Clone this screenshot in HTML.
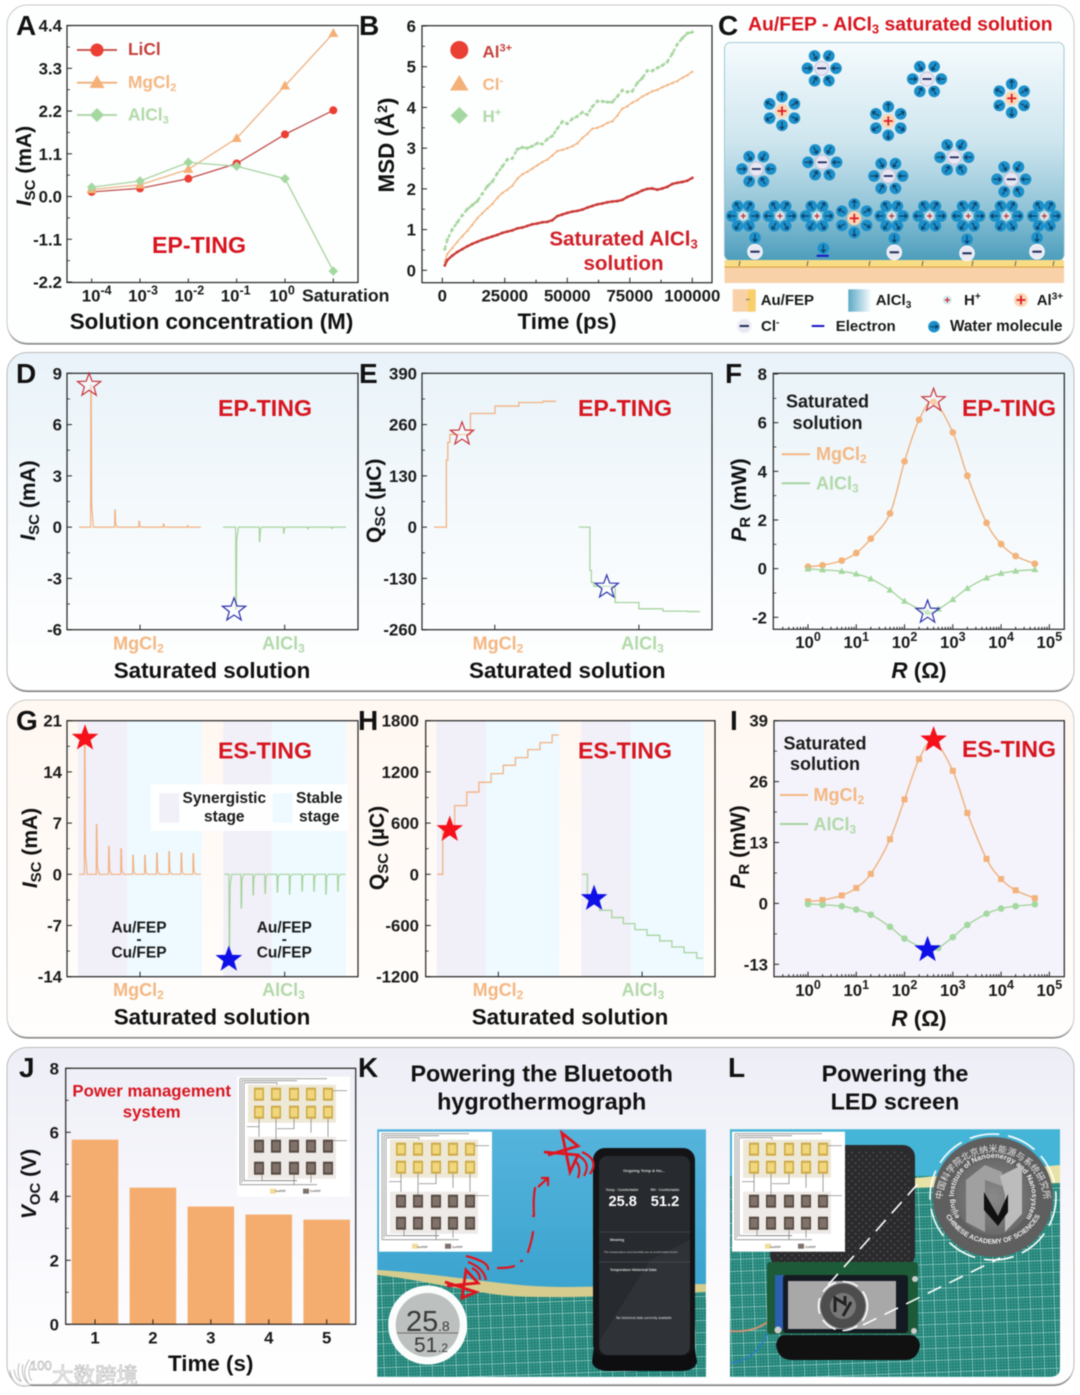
<!DOCTYPE html>
<html lang="en">
<head>
<meta charset="utf-8">
<title>TING multi-panel figure</title>
<style>
html,body{margin:0;padding:0;background:#fff;width:1080px;height:1395px;overflow:hidden}
#figure{display:block;filter:blur(.4px);font-family:"Liberation Sans","Noto Sans CJK SC",sans-serif;font-weight:bold}
.t{font-size:16.8px;fill:#1a1a1a}
.ax{font-size:22.4px;fill:#111}
.pl{font-size:28px;fill:#111}
.ting{font-size:23.2px;fill:#d8151f}
.mg{font-size:18px;fill:#f4b782}
.al{font-size:18px;fill:#b2d9aa}
.leg{font-size:15px;fill:#1a1a1a}
</style>
</head>
<body>
<svg id="figure" xmlns="http://www.w3.org/2000/svg" width="1080" height="1395" viewBox="0 0 1080 1395">
<defs>
<linearGradient id="row2" x1="0" y1="0" x2="0" y2="1"><stop offset="0" stop-color="#e9f3f9"/><stop offset=".75" stop-color="#fbfdfe"/><stop offset="1" stop-color="#fff"/></linearGradient>
<linearGradient id="row3" x1="0" y1="0" x2="0" y2="1"><stop offset="0" stop-color="#fff7f1"/><stop offset="1" stop-color="#fffefd"/></linearGradient>
<linearGradient id="row4" x1="0" y1="0" x2="0" y2="1"><stop offset="0" stop-color="#eeeef7"/><stop offset=".7" stop-color="#fbfbfe"/><stop offset="1" stop-color="#fff"/></linearGradient>
<linearGradient id="sol" x1="0" y1="0" x2="0" y2="1"><stop offset="0" stop-color="#f5fbfd"/><stop offset=".45" stop-color="#cfe6ef"/><stop offset=".75" stop-color="#93c5d8"/><stop offset="1" stop-color="#4b9dbc"/></linearGradient>
<linearGradient id="solLeg" x1="0" y1="0" x2="1" y2="0"><stop offset="0" stop-color="#5ba9c4"/><stop offset="1" stop-color="#f4fbfd"/></linearGradient>
<linearGradient id="wall" x1="0" y1="0" x2="0" y2="1"><stop offset="0" stop-color="#55b4dc"/><stop offset="1" stop-color="#2c9bc8"/></linearGradient>
<radialGradient id="logoFill"><stop offset="0" stop-color="#8a8a8a"/><stop offset="1" stop-color="#6a6a6a"/></radialGradient>
<pattern id="mat" width="12" height="12" patternUnits="userSpaceOnUse" patternTransform="rotate(-2)">
<rect width="12" height="12" fill="#1f8076"/>
<path d="M0 3H12M0 6H12M0 9H12M3 0V12M6 0V12M9 0V12" stroke="#55ad9f" stroke-width=".4"/>
<path d="M0 0H12M0 0V12" stroke="#c6efe5" stroke-width="1"/>
</pattern>
<pattern id="dimple" width="5" height="5" patternUnits="userSpaceOnUse" patternTransform="rotate(45)">
<rect width="5" height="5" fill="#2a2a2c"/><circle cx="2.500" cy="2.500" r="1.100" fill="#48484b"/>
</pattern>
<g id="wd"><circle r="5.8" fill="#1c90ca"/><path d="M-3.6 0H3.600M1.300-2.100 3.800 0 1.300 2.100" fill="none" stroke="#0f3558" stroke-width="1"/></g>
<g id="wOut"><use href="#wd" x="14.3"/></g>
<g id="wIn"><use href="#wd" transform="translate(14.3,0) rotate(180)"/></g>
<g id="anion">
<use href="#wIn"/><use href="#wIn" transform="rotate(60)"/><use href="#wIn" transform="rotate(120)"/><use href="#wIn" transform="rotate(180)"/><use href="#wIn" transform="rotate(240)"/><use href="#wIn" transform="rotate(300)"/>
<circle r="7" fill="#e8e7f3" stroke="#c3c1dc" stroke-width="1"/><path d="M-4.5 0H4.5" stroke="#1f2c5c" stroke-width="1.8"/>
</g>
<g id="cation">
<use href="#wOut" transform="rotate(30)"/><use href="#wOut" transform="rotate(90)"/><use href="#wOut" transform="rotate(150)"/><use href="#wOut" transform="rotate(210)"/><use href="#wOut" transform="rotate(270)"/><use href="#wOut" transform="rotate(330)"/>
<circle r="7" fill="#fad7b6"/><path d="M-4.5 0H4.5M0-4.5V4.5" stroke="#dd1f26" stroke-width="1.8"/>
</g>
<g id="wh"><use href="#wd" transform="translate(11.4,0)"/></g>
<g id="proton">
<use href="#wh"/><use href="#wh" transform="rotate(60)"/><use href="#wh" transform="rotate(120)"/><use href="#wh" transform="rotate(180)"/><use href="#wh" transform="rotate(240)"/><use href="#wh" transform="rotate(300)"/>
<circle r="4.6" fill="#cfeaf0"/><path d="M-2.6 0H2.6M0-2.6V2.6" stroke="#cf2a2e" stroke-width="1.2"/>
</g>
<g id="freeAnion"><circle r="7.2" fill="#e9e8f3" stroke="#f7f7fb" stroke-width="1.2"/><path d="M-4.6 0H4.6" stroke="#1f2c5c" stroke-width="2"/></g>
<g id="pad"><rect width="10" height="13" fill="#cda945"/><rect x="1.5" y="2" width="7" height="9" fill="#f0d77c"/></g>
<g id="padDark"><rect width="10" height="13" fill="#55493f"/><rect x="1.5" y="2" width="7" height="9" fill="#80726a"/></g>
<g id="circuit">
<rect width="113" height="120" fill="#fff"/>
<path d="M3 2H90M5 4H60M7 6H40V12M3 2V108M5 4V106M7 6V104H60M3 108H80" fill="none" stroke="#8f8f8f" stroke-width=".8"/>
<rect x="11" y="8" width="88" height="38" fill="#eee8d7"/>
<rect x="11" y="60" width="88" height="42" fill="#eeeae7"/>
<use href="#pad" x="17" y="11"/><use href="#pad" x="34" y="11"/><use href="#pad" x="52" y="11"/><use href="#pad" x="69" y="11"/><use href="#pad" x="86" y="11"/>
<use href="#pad" x="17" y="29"/><use href="#pad" x="34" y="29"/><use href="#pad" x="52" y="29"/><use href="#pad" x="69" y="29"/><use href="#pad" x="86" y="29"/>
<use href="#padDark" x="17" y="63"/><use href="#padDark" x="34" y="63"/><use href="#padDark" x="52" y="63"/><use href="#padDark" x="69" y="63"/><use href="#padDark" x="86" y="63"/>
<use href="#padDark" x="17" y="85"/><use href="#padDark" x="34" y="85"/><use href="#padDark" x="52" y="85"/><use href="#padDark" x="69" y="85"/><use href="#padDark" x="86" y="85"/>
<path d="M22 42V58M39 42V63M57 42V52H40M74 42V56M91 42V60M10 50H22V60M96 14H110M96 64H110M25 98V104H60M57 98V108M74 98V106" fill="none" stroke="#777" stroke-width=".7"/>
<rect x="33" y="112" width="6" height="5" fill="#f2dc9a"/><rect x="66" y="112" width="6" height="5" fill="#7d716b"/>
</g>
</defs>

<g id="panels">
<rect x="7" y="6.5" width="1067" height="338" rx="20" fill="#6e6e6e"/>
<rect x="7" y="5" width="1067" height="338" rx="20" fill="#fdfefe" stroke="#c9c9c9" stroke-width="1"/>
<rect x="7" y="354" width="1067" height="338" rx="20" fill="#6e6e6e"/>
<rect x="7" y="352.5" width="1067" height="338" rx="20" fill="url(#row2)" stroke="#bbb" stroke-width="1"/>
<rect x="7" y="701.5" width="1067" height="337" rx="20" fill="#6e6e6e"/>
<rect x="7" y="700" width="1067" height="337" rx="20" fill="url(#row3)" stroke="#ccc" stroke-width="1"/>
<rect x="7" y="1049" width="1067" height="337" rx="20" fill="#6e6e6e"/>
<rect x="7" y="1047.5" width="1067" height="337" rx="20" fill="url(#row4)" stroke="#bbb" stroke-width="1"/>
</g>

<g>
<text class="pl" x="16" y="35">A</text>
<text class="pl" x="359" y="35">B</text>
<text class="pl" x="718" y="35">C</text>
<text class="pl" x="16" y="383">D</text>
<text class="pl" x="359" y="383">E</text>
<text class="pl" x="725" y="383">F</text>
<text class="pl" x="16" y="730">G</text>
<text class="pl" x="358" y="730">H</text>
<text class="pl" x="730" y="730">I</text>
<text class="pl" x="19" y="1077">J</text>
<text class="pl" x="358" y="1077">K</text>
<text class="pl" x="728" y="1077">L</text>
</g>

<g id="plot-a"></g>
<g id="plot-b"></g>
<g id="plot-d"></g>
<g id="plot-e"></g>
<g id="plot-f"></g>
<g id="plot-g"></g>
<g id="plot-h"></g>
<g id="plot-i"></g>
<g id="plot-j"></g>

<!-- Panel A labels -->
<g>
<text class="ax" transform="translate(31,166) rotate(-90)" text-anchor="middle" style="font-size:21px"><tspan font-style="italic">I</tspan><tspan dy="4" font-size="15">SC</tspan><tspan dy="-4"> (mA)</tspan></text>
<text class="ax" x="211.5" y="329" text-anchor="middle">Solution concentration (M)</text>
<text class="ting" x="199" y="253" text-anchor="middle">EP-TING</text>
<g><path d="M77 50H117" stroke="#c0453f" stroke-width="1.8"/><circle cx="97" cy="50" r="6.5" fill="#ec3e32"/><text x="128" y="55" style="font-size:17.3px" fill="#c4423d">LiCl</text></g>
<g><path d="M77 82.7H117" stroke="#efb07c" stroke-width="1.8"/><polygon points="97,75 104.5,88 89.5,88" fill="#f5b077"/><text x="128" y="88" style="font-size:17.3px" fill="#f4b782">MgCl<tspan dy="3" font-size="11">2</tspan></text></g>
<g><path d="M77 115H117" stroke="#a8d4a0" stroke-width="1.8"/><polygon points="97,108 104,115 97,122 90,115" fill="#a4d8a0"/><text x="128" y="120.5" style="font-size:17.3px" fill="#b2d9aa">AlCl<tspan dy="3" font-size="11">3</tspan></text></g>
</g>

<!-- Panel B labels -->
<g>
<text class="ax" transform="translate(394,145) rotate(-90)" text-anchor="middle">MSD (Å<tspan dy="-7" font-size="14">2</tspan><tspan dy="7">)</tspan></text>
<text class="ax" x="567" y="329" text-anchor="middle">Time (ps)</text>
<text x="623.5" y="245.5" text-anchor="middle" style="font-size:20.6px" fill="#d01f27">Saturated AlCl<tspan dy="3" font-size="13">3</tspan></text>
<text x="623.5" y="270" text-anchor="middle" style="font-size:20.6px" fill="#d01f27">solution</text>
<g><circle cx="459.3" cy="50" r="9" fill="#ea3f33"/><text x="482.5" y="57.5" style="font-size:17px" fill="#c4423d">Al<tspan dy="-6" font-size="11">3+</tspan></text></g>
<g><polygon points="459.3,75 468.5,90.5 450,90.5" fill="#f5b077"/><text x="482.5" y="90" style="font-size:17px" fill="#f4b782">Cl<tspan dy="-6" font-size="11">-</tspan></text></g>
<g><polygon points="459.3,107 468,115.5 459.3,124 450.6,115.5" fill="#a4d8a0"/><text x="482.5" y="122" style="font-size:17px" fill="#b2d9aa">H<tspan dy="-6" font-size="11">+</tspan></text></g>
</g>

<!-- Panel C schematic -->
<g>
<text x="748" y="30.5" style="font-size:19.4px" fill="#d8151f">Au/FEP - AlCl<tspan dy="3" font-size="13">3</tspan><tspan dy="-3"> saturated solution</tspan></text>
<rect x="724.5" y="42.5" width="339.5" height="218" rx="6" fill="url(#sol)" stroke="#8fbccc" stroke-width=".8"/>
<rect x="724.5" y="260" width="339.5" height="7" fill="#f8dd86"/>
<rect x="724.5" y="266.5" width="339.5" height="1.3" fill="#dca43e"/>
<rect x="724.5" y="268" width="339.5" height="15" fill="#f9d1a9"/>
<path d="M740 261l-1 5M808 261l-1 5M870 261l-1 5M923 261l-1 5M973 261l-1 5M1016 261l-1 5M1054 261l-1 5" stroke="#444" stroke-width=".8" fill="none"/>
<use href="#anion" x="821.7" y="68.3"/>
<use href="#anion" x="927" y="79"/>
<use href="#anion" x="756.3" y="169"/>
<use href="#anion" x="822.3" y="162.3"/>
<use href="#anion" x="888.3" y="176"/>
<use href="#anion" x="954.3" y="157.3"/>
<use href="#anion" x="1011.3" y="179.3"/>
<use href="#cation" x="782" y="111"/>
<use href="#cation" x="888.3" y="121"/>
<use href="#cation" x="1011.7" y="98.3"/>
<use href="#cation" x="854.3" y="218.3"/>
<use href="#proton" x="743.3" y="216"/>
<use href="#proton" x="780" y="216"/>
<use href="#proton" x="817" y="216"/>
<use href="#proton" x="891.7" y="216"/>
<use href="#proton" x="929.7" y="216"/>
<use href="#proton" x="968.3" y="216"/>
<use href="#proton" x="1006.3" y="216"/>
<use href="#proton" x="1044.3" y="216"/>
<use href="#wd" transform="translate(755,237.7) rotate(90)"/>
<use href="#wd" transform="translate(894.3,238.3) rotate(90)"/>
<use href="#wd" transform="translate(967,239.3) rotate(90)"/>
<use href="#wd" transform="translate(1037,237.7) rotate(90)"/>
<use href="#wd" transform="translate(823.3,248.3) rotate(90)"/>
<use href="#freeAnion" x="755" y="251.7"/>
<use href="#freeAnion" x="894.3" y="252.3"/>
<use href="#freeAnion" x="967" y="253.3"/>
<use href="#freeAnion" x="1037" y="251.7"/>
<rect x="816.7" y="254.8" width="12" height="2" fill="#1616c8"/>

<g><rect x="732.7" y="289.3" width="14.6" height="22.4" fill="#f9d1a9"/><rect x="747.3" y="289.3" width="8.4" height="22.4" fill="#f8cf6b"/><path d="M746 300c1.500-1 2-1 3.500 0" fill="none" stroke="#555" stroke-width=".8"/><text class="leg" x="760.700" y="305">Au/FEP</text></g>
<g><rect x="848.3" y="289.300" width="22.400" height="22.400" fill="url(#solLeg)"/><text class="leg" x="875.700" y="305">AlCl<tspan dy="3" font-size="10">3</tspan></text></g>
<g><circle cx="947.300" cy="300" r="4.500" fill="#cfeaf0"/><path d="M944.800 300H949.800M947.300 297.500V302.500" stroke="#cf2a2e" stroke-width="1.200"/><text class="leg" x="964" y="305">H<tspan dy="-5.500" font-size="10">+</tspan></text></g>
<g><circle cx="1021" cy="300" r="7" fill="#fad7b6"/><path d="M1016.500 300H1025.500M1021 295.500V304.500" stroke="#dd1f26" stroke-width="1.800"/><text class="leg" x="1036.700" y="305">Al<tspan dy="-5.500" font-size="10">3+</tspan></text></g>
<g><use href="#freeAnion" x="744.300" y="326"/><text class="leg" x="761" y="331">Cl<tspan dy="-5.500" font-size="10">-</tspan></text></g>
<g><rect x="811.700" y="325" width="12.600" height="2" fill="#1616c8"/><text class="leg" x="835.700" y="331">Electron</text></g>
<g><use href="#wd" x="934" y="326.700"/><text class="leg" x="950" y="331" style="font-size:15.300px">Water molecule</text></g>
</g>

<!-- D/E/F labels -->
<g>
<text class="ax" transform="translate(35,500.500) rotate(-90)" text-anchor="middle" style="font-size:21px"><tspan font-style="italic">I</tspan><tspan dy="4" font-size="15">SC</tspan><tspan dy="-4"> (mA)</tspan></text>
<text class="mg" x="138.500" y="649.500" text-anchor="middle">MgCl<tspan dy="3" font-size="12">2</tspan></text>
<text class="al" x="283.500" y="649.500" text-anchor="middle">AlCl<tspan dy="3" font-size="12">3</tspan></text>
<text class="ax" x="212" y="678" text-anchor="middle">Saturated solution</text>
<text class="ting" x="265" y="416" text-anchor="middle">EP-TING</text>

<text class="ax" transform="translate(381,500.800) rotate(-90)" text-anchor="middle" style="font-size:21px">Q<tspan dy="4" font-size="15">SC</tspan><tspan dy="-4"> (µC)</tspan></text>
<text class="mg" x="498" y="649.500" text-anchor="middle">MgCl<tspan dy="3" font-size="12">2</tspan></text>
<text class="al" x="642.500" y="649.500" text-anchor="middle">AlCl<tspan dy="3" font-size="12">3</tspan></text>
<text class="ax" x="567.300" y="678" text-anchor="middle">Saturated solution</text>
<text class="ting" x="625" y="416" text-anchor="middle">EP-TING</text>

<text class="ax" transform="translate(746,500) rotate(-90)" text-anchor="middle" style="font-size:21px"><tspan font-style="italic">P</tspan><tspan dy="4" font-size="15">R</tspan><tspan dy="-4"> (mW)</tspan></text>
<text class="ax" x="919" y="678" text-anchor="middle"><tspan font-style="italic">R</tspan> (Ω)</text>
<text class="ting" x="1009" y="416" text-anchor="middle">EP-TING</text>
<text x="827.500" y="407.500" text-anchor="middle" style="font-size:18px" fill="#1a1a1a">Saturated</text>
<text x="827.500" y="429" text-anchor="middle" style="font-size:18px" fill="#1a1a1a">solution</text>
<g><path d="M781.700 454.300H810" stroke="#f4b782" stroke-width="2"/><text class="mg" x="816" y="460">MgCl<tspan dy="3" font-size="12">2</tspan></text></g>
<g><path d="M781.700 483.300H810" stroke="#a8d4a0" stroke-width="2"/><text class="al" x="816" y="489.500">AlCl<tspan dy="3" font-size="12">3</tspan></text></g>
</g>

<!-- G/H/I labels -->
<g id="row-3-annotations">
<text class="ax" transform="translate(37,848) rotate(-90)" text-anchor="middle" style="font-size:21px"><tspan font-style="italic">I</tspan><tspan dy="4" font-size="15">SC</tspan><tspan dy="-4"> (mA)</tspan></text>
<text class="mg" x="138.500" y="996" text-anchor="middle">MgCl<tspan dy="3" font-size="12">2</tspan></text>
<text class="al" x="283.500" y="996" text-anchor="middle">AlCl<tspan dy="3" font-size="12">3</tspan></text>
<text class="ax" x="212" y="1024.500" text-anchor="middle">Saturated solution</text>
<text class="ting" x="265" y="758.300" text-anchor="middle">ES-TING</text>

<text class="ax" transform="translate(384,848) rotate(-90)" text-anchor="middle" style="font-size:21px">Q<tspan dy="4" font-size="15">SC</tspan><tspan dy="-4"> (µC)</tspan></text>
<text class="mg" x="498" y="996" text-anchor="middle">MgCl<tspan dy="3" font-size="12">2</tspan></text>
<text class="al" x="643" y="996" text-anchor="middle">AlCl<tspan dy="3" font-size="12">3</tspan></text>
<text class="ax" x="570" y="1024.500" text-anchor="middle">Saturated solution</text>
<text class="ting" x="625" y="758.300" text-anchor="middle">ES-TING</text>

<text class="ax" transform="translate(745,847) rotate(-90)" text-anchor="middle" style="font-size:21px"><tspan font-style="italic">P</tspan><tspan dy="4" font-size="15">R</tspan><tspan dy="-4"> (mW)</tspan></text>
<text class="ax" x="919" y="1026" text-anchor="middle"><tspan font-style="italic">R</tspan> (Ω)</text>
</g>

<!-- J labels -->
<g>
<text class="ax" transform="translate(36,1184) rotate(-90)" text-anchor="middle" style="font-size:21px"><tspan font-style="italic">V</tspan><tspan dy="4" font-size="15">OC</tspan><tspan dy="-4"> (V)</tspan></text>
<text class="ax" x="210.700" y="1371" text-anchor="middle">Time (s)</text>
</g>

<!-- Titles K/L -->
<g>
<text x="541.700" y="1081.700" text-anchor="middle" style="font-size:23.400px" fill="#111">Powering the Bluetooth</text>
<text x="541.700" y="1109.300" text-anchor="middle" style="font-size:23.400px" fill="#111">hygrothermograph</text>
<text x="895" y="1081.700" text-anchor="middle" style="font-size:23.400px" fill="#111">Powering the</text>
<text x="895" y="1109.300" text-anchor="middle" style="font-size:23.400px" fill="#111">LED screen</text>
</g>

<!-- Photo K -->
<g>
<rect x="377.300" y="1129.300" width="328.700" height="247.400" fill="url(#wall)"/>
<path d="M377.300 1270C420 1272 470 1280 520 1285S640 1284 706 1284V1294C640 1296 560 1300 500 1296S410 1280 377.300 1276Z" fill="#d6cc8e"/>
<path d="M377.300 1275C410 1278 460 1290 500 1295S640 1295 706 1292V1376.700H377.300Z" fill="url(#mat)"/>
<g>
<circle cx="427.700" cy="1325" r="39.500" fill="#fbfdfd"/>
<circle cx="427.700" cy="1325" r="32" fill="#bcc0bf"/>
<path d="M397 1333H458" stroke="#555" stroke-width=".8"/>
<text x="406" y="1331" style="font-size:29px;font-weight:normal" fill="#3a3a3a">25</text>
<text x="438" y="1331" style="font-size:14px;font-weight:normal" fill="#3a3a3a">.8</text>
<text x="414" y="1352" style="font-size:21px;font-weight:normal" fill="#3a3a3a">51</text>
<text x="438" y="1352" style="font-size:12px;font-weight:normal" fill="#3a3a3a">.2</text>
</g>
<g>
<path d="M596 1330H692L697 1362Q695 1371 680 1371H610Q594 1371 592 1362Z" fill="#0e0e10"/>
<rect x="593" y="1148" width="102" height="208" rx="12" fill="#141416"/>
<rect x="599" y="1156" width="91" height="199" rx="8" fill="#272a2e"/>
<path d="M600 1340L650 1260L690 1240V1345Q690 1355 680 1355H610Q600 1355 600 1345Z" fill="#36393e" opacity=".6"/>
<text x="644" y="1172" text-anchor="middle" style="font-size:4px" fill="#ddd">Ongoing Temp &amp; Hu...</text>
<text x="622" y="1191" text-anchor="middle" style="font-size:3.500px" fill="#ccc">Temp · Comfortable</text>
<text x="665" y="1191" text-anchor="middle" style="font-size:3.500px" fill="#ccc">RH · Comfortable</text>
<text x="622.700" y="1206" text-anchor="middle" style="font-size:14.600px" fill="#fff">25.8</text>
<text x="665" y="1206" text-anchor="middle" style="font-size:14.600px" fill="#fff">51.2</text>
<path d="M599 1232H690M599 1262H690" stroke="#4a4d52" stroke-width=".7"/>
<text x="610" y="1241" style="font-size:3.500px" fill="#ddd">Meaning</text>
<text x="604" y="1253" style="font-size:2.800px" fill="#aaa">The temperature and humidity are at comfortable levels</text>
<text x="610" y="1271" style="font-size:3.500px" fill="#ddd">Temperature Historical Data</text>
<text x="644" y="1319" text-anchor="middle" style="font-size:3.200px" fill="#bbb">No historical data currently available</text>
</g>
<g fill="none" stroke="#e0141f" stroke-width="2.200">
<path d="M498 1268Q510 1268 514 1266M521 1261H522M528 1252Q532 1240 533 1232M533 1216H534M534 1215Q533 1200 535 1188" stroke-linecap="round"/>
<path d="M538 1187 548 1178M541 1178H548V1186"/>
<path d="M445 1282 476 1292 462 1298 466 1270 478 1283 447 1286" stroke-width="2.800"/>
<path d="M468 1262Q484 1268 486 1280M466 1256Q490 1262 488 1270M472 1268Q480 1272 480 1280"/>
<path d="M548 1155 578 1146 562 1133 570 1172 578 1155 544 1152" stroke-width="2.800"/>
<path d="M574 1160Q582 1166 578 1178M577 1155Q592 1162 584 1176M582 1152Q600 1160 590 1174"/>
</g>
<g><use href="#circuit" x="379" y="1131.700"/><text x="417" y="1248" style="font-size:3px" fill="#555">Au/FEP</text><text x="452" y="1248" style="font-size:3px" fill="#555">Cu/FEP</text></g>
</g>

<!-- Photo L -->
<g>
<path d="M730 1129.300H1060V1368Q1060 1376.700 1050 1376.700H730Z" fill="#44b5d6"/>
<path d="M730 1176H1060V1368Q1060 1376.700 1050 1376.700H730Z" fill="url(#mat)"/>
<path d="M915 1178L1060 1165V1183L915 1188Z" fill="#e8e2a6"/>
<g>
<rect x="770" y="1145" width="145" height="122" rx="12" fill="#2b2b2d"/>
<rect x="775" y="1150" width="135" height="114" rx="8" fill="url(#dimple)"/>
</g>
<g>
<path d="M730 1331Q755 1333 770 1320" fill="none" stroke="#cf9374" stroke-width="2"/>
<path d="M730 1363Q760 1360 772 1322" fill="none" stroke="#2b7ec2" stroke-width="1.500"/>
<path d="M784 1335H910Q918 1335 920 1345Q918 1360 905 1360H792Q778 1360 776 1345Q778 1335 784 1335Z" fill="#111"/>
<rect x="767" y="1262" width="151" height="72" rx="3" fill="#1d5a37"/>
<rect x="775" y="1275" width="9" height="55" fill="#2b5fb0"/>
<rect x="783" y="1275" width="125" height="58" rx="3" fill="#141a22"/>
<rect x="788" y="1281" width="108" height="48" fill="#a9a8a8"/>
<circle cx="778" cy="1330" r="3.500" fill="#ccc"/><circle cx="915" cy="1279" r="3" fill="#ccc"/><circle cx="914" cy="1331" r="3" fill="#ccc"/>
<circle cx="843" cy="1306" r="22.500" fill="#4d4d4d"/>
<circle cx="843" cy="1306" r="13" fill="#777"/>
<path d="M835 1312V1298L845 1304V1296M843 1316L851 1302" fill="none" stroke="#222" stroke-width="3"/>
</g>
<g fill="none" stroke="#fff" stroke-width="1.600">
<circle cx="843" cy="1306" r="24.500" stroke-dasharray="16 7"/>
<path d="M828 1285 923 1178M863 1325 1000 1258" stroke-dasharray="15 9"/>
<circle cx="993" cy="1197" r="63" stroke-dasharray="30 9"/>
</g>
<g>
<circle cx="993" cy="1197" r="60" fill="#5f5f5f"/>
<circle cx="993" cy="1197" r="38" fill="url(#logoFill)"/>
<path id="logoTop" d="M959.600 1217.100A39 39 0 1 1 1026.400 1217.100" fill="none"/>
<path id="logoOuter" d="M942 1203A51 51 0 1 1 1044 1203" fill="none"/>
<path id="logoBot" d="M946.400 1217A54 54 0 0 0 1039.600 1217" fill="none"/>
<text style="font-size:7.400px" fill="#eee"><textPath href="#logoTop" startOffset="50%" text-anchor="middle">Beijing Institute of Nanoenergy and Nanosystems</textPath></text>
<text style="font-size:9px;font-weight:normal" fill="#e8e8e8"><textPath href="#logoOuter" startOffset="50%" text-anchor="middle">中国科学院北京纳米能源与系统研究所</textPath></text>
<text style="font-size:6.800px" fill="#eee"><textPath href="#logoBot" startOffset="50%" text-anchor="middle">CHINESE ACADEMY OF SCIENCES</textPath></text>
<path d="M966 1180 985 1165 1002 1172V1186L985 1180V1232L966 1222Z" fill="#a0a0a0"/>
<path d="M1000 1176 1022 1165V1214L1005 1232V1195Z" fill="#bcbcbc"/>
<path d="M984 1192 998 1216 1008 1194V1212L998 1226 984 1210Z" fill="#111"/>
</g>
<g><use href="#circuit" x="732" y="1131.700"/><text x="770" y="1248" style="font-size:3px" fill="#555">Au/FEP</text><text x="805" y="1248" style="font-size:3px" fill="#555">Cu/FEP</text></g>
</g>

<g><use href="#circuit" x="237" y="1076.700"/><text x="275" y="1192" style="font-size:3px" fill="#555">Au/FEP</text><text x="310" y="1192" style="font-size:3px" fill="#555">Cu/FEP</text></g>
<g>
<text x="151.700" y="1096.700" text-anchor="middle" style="font-size:16.800px" fill="#d8151f">Power management</text>
<text x="151.700" y="1117.700" text-anchor="middle" style="font-size:16.800px" fill="#d8151f">system</text>
</g>
<g opacity=".9">
<path d="M12 1370Q14 1385 26 1384Q18 1376 21 1364M30 1382Q23 1372 31 1361" fill="none" stroke="#a5a5a5" stroke-width="5"/>
<path d="M12 1370Q14 1385 26 1384Q18 1376 21 1364M30 1382Q23 1372 31 1361" fill="none" stroke="#fff" stroke-width="3.400"/>
<text x="30" y="1370" style="font-size:13px;font-weight:normal" fill="#fff" stroke="#999" stroke-width=".5">100</text>
<text x="52" y="1383" style="font-size:21.500px;font-weight:normal" fill="#f7f7f7" stroke="#9a9a9a" stroke-width=".5">大数跨境</text>
</g>

<script>
// ---------- Chart data ----------
const aCategoryExponents = ['-4', '-3', '-2', '-1', '0'];
const aCategoryIndex = [0, 1, 2, 3, 4, 5];
const aLiCl = [0.12, 0.21, 0.46, 0.85, 1.6, 2.22];
const aMgCl2 = [0.18, 0.30, 0.70, 1.5, 2.85, 4.2];
const aAlCl3 = [0.24, 0.40, 0.88, 0.78, 0.46, -1.92];
const aYTicks = [4.4, 3.3, 2.2, 1.1, 0, -1.1, -2.2];
const aYLabels = ['4.4', '3.3', '2.2', '1.1', '0.0', '-1.1', '-2.2'];

const bTime = [1000,2000,4000,6000,8000,10000,12000,14000,16000,18000,20000,22000,24000,26000,28000,30000,32000,34000,36000,38000,40000,42000,44000,46000,48000,50000,52000,54000,56000,58000,60000,62000,64000,66000,68000,70000,72000,74000,76000,78000,80000,82000,84000,86000,88000,90000,92000,94000,96000,98000,100000];
const bAl = [0.12,0.25,0.36,0.45,0.52,0.59,0.65,0.70,0.75,0.79,0.83,0.87,0.92,0.95,0.98,1.03,1.05,1.09,1.13,1.15,1.18,1.19,1.23,1.33,1.37,1.41,1.44,1.46,1.49,1.54,1.58,1.62,1.64,1.67,1.69,1.70,1.73,1.80,1.85,1.90,1.96,2.00,2.01,1.98,2.01,2.05,2.12,2.15,2.17,2.20,2.27];
const bCl = [0.22,0.40,0.55,0.70,0.84,0.97,1.12,1.28,1.40,1.52,1.63,1.78,1.90,1.98,2.08,2.25,2.36,2.42,2.50,2.58,2.66,2.72,2.82,2.93,2.96,3.00,3.05,3.12,3.25,3.35,3.48,3.50,3.55,3.62,3.66,3.80,3.97,4.03,4.12,4.18,4.27,4.33,4.40,4.43,4.50,4.55,4.60,4.65,4.73,4.79,4.88];
const bH = [0.52,0.75,1.00,1.18,1.35,1.50,1.60,1.70,1.88,2.06,2.18,2.38,2.55,2.72,2.75,2.97,3.02,3.00,3.05,3.12,3.10,3.22,3.30,3.48,3.65,3.60,3.72,3.78,3.88,3.82,4.02,4.15,4.15,4.13,4.13,4.27,4.42,4.38,4.40,4.60,4.72,4.90,4.90,4.97,5.03,5.12,5.32,5.55,5.70,5.82,5.85];
const bYTicks = [6, 5, 4, 3, 2, 1, 0];
const bYLabels = ['6', '5', '4', '3', '2', '1', '0'];
const bXTicks = [0, 25000, 50000, 75000, 100000];
const bXLabels = ['0', '25000', '50000', '75000', '100000'];

const categoryTimes = [25.1, 74.8];

const dMgSpan = [4.1, 46];
const dMgSpikeTimes = [8.25, 16.5, 24.8, 33.2, 41.5];
const dMgSpikePeaks = [8.3, 1.0, 0.35, 0.18, 0.08];
const dAlSpan = [53.6, 95.9];
const dAlSpikeTimes = [58.1, 66.2, 74.5, 82.8, 91.1];
const dAlSpikePeaks = [-4.8, -0.85, -0.35, -0.1, -0.08];
const dYTicks = [9, 6, 3, 0, -3, -6];
const dYLabels = ['9', '6', '3', '0', '-3', '-6'];
const dStarPos = [7.6, 8.3];
const dStarNeg = [57.4, -4.85];

const eMgTimes = [4.1, 8.4, 8.9, 9.6, 16.7, 25.2, 33.4, 41.7, 46.2];
const eMgLevels = [0, 170, 215, 235, 288, 307, 316, 319, 319];
const eAlTimes = [54.1, 57.9, 58.4, 59.2, 66.6, 74.8, 83.1, 91.6, 95.9];
const eAlLevels = [0, -110, -140, -150, -191, -207, -213, -214, -214];
const eYTicks = [390, 260, 130, 0, -130, -260];
const eYLabels = ['390', '260', '130', '0', '-130', '-260'];
const eStarPos = [13.8, 236];
const eStarNeg = [63.7, -152];

const powerExponents = ['0', '1', '2', '3', '4', '5'];
const fMgR = [1, 2, 5, 10, 20, 50, 100, 200, 400, 1000, 2000, 5000, 10000, 20000, 50000];
const fMgP = [0.08, 0.14, 0.33, 0.64, 1.23, 2.27, 4.41, 6.12, 6.86, 5.6, 3.82, 1.88, 1.01, 0.52, 0.2];
const fAlR = [1, 2, 5, 10, 20, 50, 100, 300, 500, 1000, 2000, 5000, 10000, 20000, 50000];
const fAlP = [-0.01, -0.05, -0.11, -0.22, -0.42, -0.88, -1.34, -1.79, -1.66, -1.27, -0.81, -0.38, -0.19, -0.1, -0.04];
const fYTicks = [8, 6, 4, 2, 0, -2];
const fYLabels = ['8', '6', '4', '2', '0', '-2'];
const fStarPos = [400, 6.91];
const fStarNeg = [300, -1.79];

const gMgSpan = [4.1, 46];
const gMgSpikeTimes = [6.1, 10.2, 14.4, 18.6, 22.7, 26.8, 30.9, 35.1, 39.3, 43.4];
const gMgSpikePeaks = [18.4, 6.8, 3.8, 3.5, 2.6, 2.6, 2.9, 3.1, 2.9, 2.8];
const gAlSpan = [54, 95.8];
const gAlSpikeTimes = [55.8, 59.9, 64, 68.1, 72.3, 76.5, 80.8, 84.9, 89, 93.1];
const gAlSpikePeaks = [-10, -4.6, -2.8, -2.6, -2.4, -2.7, -2.3, -2.3, -2.7, -2.3];
const gYTicks = [21, 14, 7, 0, -7, -14];
const gYLabels = ['21', '14', '7', '0', '-7', '-14'];
const gStarPos = [6.2, 18.6];
const gStarNeg = [55.6, -11.64];
const gSynergisticStages = [[3.8, 20.6], [53.7, 70.3]];
const gStableStages = [[20.6, 46.3], [70.3, 95.8]];

const hMgTimes = [4.0, 5.9, 10.0, 14.2, 18.4, 22.6, 26.8, 31.0, 35.3, 39.5, 43.7, 46.0];
const hMgLevels = [0, 530, 805, 964, 1078, 1180, 1277, 1367, 1461, 1543, 1632, 1632];
const hAlTimes = [54.0, 55.9, 60.1, 64.3, 68.3, 72.3, 76.5, 80.9, 85.1, 89.3, 93.7, 95.9];
const hAlLevels = [0, -300, -422, -507, -578, -648, -715, -781, -852, -918, -984, -984];
const hYTicks = [1800, 1200, 600, 0, -600, -1200];
const hYLabels = ['1800', '1200', '600', '0', '-600', '-1200'];
const hStarPos = [8.3, 524];
const hStarNeg = [58.2, -285];
const hSynergisticStages = [[3.8, 20.8], [53.8, 70.9]];
const hStableStages = [[20.8, 46.2], [70.9, 96.2]];

const iMgP = [0.43, 0.7, 1.7, 3.3, 6.3, 13.7, 22.2, 30.8, 34.7, 28.3, 19.3, 9.5, 5.2, 2.8, 1.1];
const iAlP = [-0.15, -0.3, -0.6, -1.3, -2.4, -5, -7.5, -9.9, -9.5, -7.2, -4.6, -2.2, -1.1, -0.6, -0.2];
const iYTicks = [39, 26, 13, 0, -13];
const iYLabels = ['39', '26', '13', '0', '-13'];
const iStarPos = [400, 34.9];
const iStarNeg = [300, -9.9];

const jTimes = [1, 2, 3, 4, 5];
const jVoltage = [5.77, 4.27, 3.68, 3.43, 3.27];
const jYTicks = [8, 6, 4, 2, 0];
const jYLabels = ['8', '6', '4', '2', '0'];

// ---------- Helpers ----------
const NS = 'http://www.w3.org/2000/svg';
const ORANGE = '#f2b283', GREEN = '#a8d4a0', RED = '#c0453f';
function make(tag, parent, attrs) {
  const el = document.createElementNS(NS, tag);
  for (const k in attrs) el.setAttribute(k, attrs[k]);
  parent.appendChild(el);
  return el;
}
function linear(d0, d1, r0, r1) { return v => r0 + (v - d0) / (d1 - d0) * (r1 - r0); }
function logX(origin, decade) { return v => origin + Math.log10(v) * decade; }

function frame(g, box, fill) {
  const r = make('rect', g, {x: box.l, y: box.t, width: box.r - box.l, height: box.b - box.t, fill: fill || 'none', stroke: '#222', 'stroke-width': 1.2});
  
  
}
function yAxis(g, box, y, ticks, labels, labelX) {
  ticks.forEach((v, i) => {
    const tick = make('line', g, {x1: box.l, x2: box.l + 5, y1: y(v), y2: y(v), stroke: '#222', 'stroke-width': 1});
    
    
    const label = make('text', g, {x: labelX, y: y(v) + 6, 'text-anchor': 'end', class: 't'});
    label.textContent = labels[i];
    
    
    if (i < ticks.length - 1) {
      const m = (y(v) + y(ticks[i + 1])) / 2;
      const minor = make('line', g, {x1: box.l, x2: box.l + 3, y1: m, y2: m, stroke: '#222', 'stroke-width': .8});
      
      
    }
  });
}
function xTick(g, box, px, len) {
  const t = make('line', g, {x1: px, x2: px, y1: box.b, y2: box.b - len, stroke: '#222', 'stroke-width': 1});
  
  
}
function powerLabel(g, px, py, exp) {
  const t = make('text', g, {x: px, y: py, 'text-anchor': 'middle', class: 't'});
  
  
  const a = make('tspan', t, {});
  a.textContent = '10';
  const b = make('tspan', t, {dy: -7, 'font-size': 12.5});
  b.textContent = exp;
}
function polyline(g, xs, ys, x, y, color, w, dash) {
  const pts = xs.map((v, i) => x(v).toFixed(2) + ',' + y(ys[i]).toFixed(2)).join(' ');
  const l = make('polyline', g, {points: pts, fill: 'none', stroke: color, 'stroke-width': w});
  if (dash) l.setAttribute('stroke-dasharray', dash);
  
  
}
function smooth(g, xs, ys, x, y, color, w) {
  const P = xs.map((v, i) => [x(v), y(ys[i])]);
  let d = 'M' + P[0][0] + ' ' + P[0][1];
  for (let i = 0; i < P.length - 1; i++) {
    const p0 = P[Math.max(0, i - 1)], p1 = P[i], p2 = P[i + 1], p3 = P[Math.min(P.length - 1, i + 2)];
    d += 'C' + (p1[0] + (p2[0] - p0[0]) / 6) + ' ' + (p1[1] + (p2[1] - p0[1]) / 6) + ' ' + (p2[0] - (p3[0] - p1[0]) / 6) + ' ' + (p2[1] - (p3[1] - p1[1]) / 6) + ' ' + p2[0] + ' ' + p2[1];
  }
  const l = make('path', g, {d: d, fill: 'none', stroke: color, 'stroke-width': w});
  
  
}
function marker(g, shape, cx, cy, r, color) {
  let el;
  if (shape === 'circle') el = make('circle', g, {cx: cx, cy: cy, r: r, fill: color});
  if (shape === 'square') el = make('rect', g, {x: cx - r, y: cy - r, width: 2 * r, height: 2 * r, fill: color});
  if (shape === 'tri') el = make('polygon', g, {points: cx + ',' + (cy - r * 1.15) + ' ' + (cx + r * 1.1) + ',' + (cy + r * .8) + ' ' + (cx - r * 1.1) + ',' + (cy + r * .8), fill: color});
  if (shape === 'diamond') el = make('polygon', g, {points: cx + ',' + (cy - r * 1.2) + ' ' + (cx + r * 1.2) + ',' + cy + ' ' + cx + ',' + (cy + r * 1.2) + ' ' + (cx - r * 1.2) + ',' + cy, fill: color});
  
  
}
function spikes(g, span, times, peaks, x, y, color) {
  let d = 'M' + x(span[0]) + ' ' + y(0);
  times.forEach((t, i) => {
    const p = peaks[i];
    d += 'L' + (x(t) - .4) + ' ' + y(0) + 'L' + (x(t) - .2) + ' ' + y(p) + 'L' + (x(t) + .2) + ' ' + y(p) + 'L' + (x(t) + .7) + ' ' + y(p * .15) + 'L' + (x(t) + 2.4) + ' ' + y(0);
  });
  d += 'L' + x(span[1]) + ' ' + y(0);
  const l = make('path', g, {d: d, fill: 'none', stroke: color, 'stroke-width': 1.2});
  
  
}
function steps(g, times, levels, x, y, color) {
  let d = 'M' + x(times[0]) + ' ' + y(levels[0]);
  for (let i = 1; i < times.length; i++) {
    d += 'H' + x(times[i]) + 'V' + y(levels[i]);
  }
  const l = make('path', g, {d: d, fill: 'none', stroke: color, 'stroke-width': 1.3});
  
  
}
function star(g, cx, cy, fill, stroke) {
  const pts = [];
  for (let i = 0; i < 10; i++) {
    const a = -Math.PI / 2 + i * Math.PI / 5, r = i % 2 ? 5 : 12.2;
    pts.push((cx + r * Math.cos(a)).toFixed(2) + ',' + (cy + r * Math.sin(a)).toFixed(2));
  }
  const s = make('polygon', g, {points: pts.join(' '), fill: fill, stroke: stroke, 'stroke-width': 1.2});
  
  
}
function stages(g, box, x, ranges, color) {
  ranges.forEach(r => {
    const s = make('rect', g, {x: x(r[0]), y: box.t, width: x(r[1]) - x(r[0]), height: box.b - box.t, fill: color});
    
    
  });
}
function categoryTicks(g, box, x) {
  categoryTimes.forEach(t => xTick(g, box, x(t), 5));
}
const OPEN_RED = ['rgba(255,255,255,.35)', '#c8323a'], OPEN_BLUE = ['rgba(255,255,255,.35)', '#2a2faa'];

// ---------- Panel A ----------
(function () {
  const g = document.getElementById('plot-a');
  const box = {l: 67, r: 358, t: 25.5, b: 282.5};
  const x = linear(0, 5, 91.7, 333.3), y = linear(-2.2, 4.4, 282, 25.6);
  const labelPos = linear(0, 4, 96.7, 282);
  frame(g, box);
  yAxis(g, box, y, aYTicks, aYLabels, 62);
  aCategoryIndex.forEach(c => xTick(g, box, x(c), 4));
  aCategoryExponents.forEach((e, i) => powerLabel(g, labelPos(i), 301.5, e));
  const sat = make('text', g, {x: 302, y: 301.5, class: 't', style: 'font-size:17.7px'});
  sat.textContent = 'Saturation';
  
  
  polyline(g, aCategoryIndex, aLiCl, x, y, '#c0504d', 1.3);
  polyline(g, aCategoryIndex, aMgCl2, x, y, '#edb383', 1.3);
  polyline(g, aCategoryIndex, aAlCl3, x, y, '#a8d4a0', 1.3);
  aCategoryIndex.forEach(c => marker(g, 'circle', x(c), y(aLiCl[c]), 4, '#ec3e32'));
  aCategoryIndex.forEach(c => marker(g, 'tri', x(c), y(aMgCl2[c]), 4.6, '#f5b077'));
  aCategoryIndex.forEach(c => marker(g, 'diamond', x(c), y(aAlCl3[c]), 4, '#a4d8a0'));
})();

// ---------- Panel B ----------
(function () {
  const g = document.getElementById('plot-b');
  const box = {l: 422, r: 712, t: 25.7, b: 282.7};
  const x = linear(0, 100000, 442.3, 692.3), y = linear(0, 6, 270.3, 26);
  frame(g, box);
  yAxis(g, box, y, bYTicks, bYLabels, 416);
  bXTicks.forEach((t, i) => {
    xTick(g, box, x(t), 5);
    if (i < bXTicks.length - 1) xTick(g, box, (x(t) + x(bXTicks[i + 1])) / 2, 3);
    const lab = make('text', g, {x: x(t), y: 301.5, 'text-anchor': 'middle', class: 't'});
    lab.textContent = bXLabels[i];
    
    
  });
  polyline(g, bTime, bH, x, y, '#a6d69e', 2.2, '4 2');
  bTime.forEach((t, i) => marker(g, 'diamond', x(t), y(bH[i]), 1.7, '#a6d69e'));
  polyline(g, bTime, bCl, x, y, '#f3b47f', 1.4);
  bTime.forEach((t, i) => marker(g, 'tri', x(t), y(bCl[i]), 1.4, '#f3b47f'));
  polyline(g, bTime, bAl, x, y, '#cc3c38', 2.3);
  bTime.forEach((t, i) => marker(g, 'circle', x(t), y(bAl[i]), 1.4, '#c93a36'));
})();

// ---------- Panels D, E, G, H (trace charts) ----------
(function () {
  const g = document.getElementById('plot-d');
  const box = {l: 67, r: 358, t: 373.3, b: 629.7};
  const x = linear(0, 100, box.l, box.r), y = linear(-6, 9, box.b, box.t);
  frame(g, box);
  yAxis(g, box, y, dYTicks, dYLabels, 62);
  categoryTicks(g, box, x);
  spikes(g, dMgSpan, dMgSpikeTimes, dMgSpikePeaks, x, y, ORANGE);
  spikes(g, dAlSpan, dAlSpikeTimes, dAlSpikePeaks, x, y, GREEN);
  star(g, x(dStarPos[0]), y(dStarPos[1]), OPEN_RED[0], OPEN_RED[1]);
  star(g, x(dStarNeg[0]), y(dStarNeg[1]), OPEN_BLUE[0], OPEN_BLUE[1]);
})();
(function () {
  const g = document.getElementById('plot-e');
  const box = {l: 422, r: 712, t: 373.3, b: 629.7};
  const x = linear(0, 100, box.l, box.r), y = linear(-260, 390, box.b, box.t);
  frame(g, box);
  yAxis(g, box, y, eYTicks, eYLabels, 417);
  categoryTicks(g, box, x);
  steps(g, eMgTimes, eMgLevels, x, y, ORANGE);
  steps(g, eAlTimes, eAlLevels, x, y, GREEN);
  star(g, x(eStarPos[0]), y(eStarPos[1]), OPEN_RED[0], OPEN_RED[1]);
  star(g, x(eStarNeg[0]), y(eStarNeg[1]), OPEN_BLUE[0], OPEN_BLUE[1]);
})();
(function () {
  const g = document.getElementById('plot-g');
  const box = {l: 67, r: 358, t: 720.7, b: 976.7};
  const x = linear(0, 100, box.l, box.r), y = linear(-14, 21, box.b, box.t);
  stages(g, box, x, gSynergisticStages, '#f1eff7');
  stages(g, box, x, gStableStages, '#eefaff');
  frame(g, box);
  yAxis(g, box, y, gYTicks, gYLabels, 62);
  categoryTicks(g, box, x);
  spikes(g, gMgSpan, gMgSpikeTimes, gMgSpikePeaks, x, y, ORANGE);
  spikes(g, gAlSpan, gAlSpikeTimes, gAlSpikePeaks, x, y, GREEN);
  star(g, x(gStarPos[0]), y(gStarPos[1]), '#f5101a', '#f5101a');
  star(g, x(gStarNeg[0]), y(gStarNeg[1]), '#0f10e8', '#0f10e8');
  const lg = make('g', g, {});
  
  
  make('rect', lg, {x: 150.7, y: 784.3, width: 197.6, height: 46.7, fill: '#fff', opacity: .92});
  make('rect', lg, {x: 159.3, y: 793.3, width: 20, height: 29.4, fill: '#f1eff7'});
  make('rect', lg, {x: 272.7, y: 793.3, width: 20, height: 29.4, fill: '#eefaff'});
  const legendRows = [['Synergistic', 224.3, 803], ['stage', 224.3, 821.7], ['Stable', 319.3, 803], ['stage', 319.3, 821.7], ['Au/FEP', 139, 932.7], ['-', 139, 944], ['Cu/FEP', 139, 957.3], ['Au/FEP', 284.3, 932.7], ['-', 284.3, 944], ['Cu/FEP', 284.3, 957.3]];
  legendRows.forEach(r => {
    const t = make('text', lg, {x: r[1], y: r[2], 'text-anchor': 'middle', style: 'font-size:15.5px', fill: '#1a1a1a'});
    t.textContent = r[0];
    
    
  });
})();
(function () {
  const g = document.getElementById('plot-h');
  const box = {l: 425.7, r: 715, t: 720.7, b: 976.7};
  const x = linear(0, 100, box.l, box.r), y = linear(-1200, 1800, box.b, box.t);
  stages(g, box, x, hSynergisticStages, '#f1eff7');
  stages(g, box, x, hStableStages, '#eefaff');
  frame(g, box);
  yAxis(g, box, y, hYTicks, hYLabels, 419);
  categoryTicks(g, box, x);
  steps(g, hMgTimes, hMgLevels, x, y, ORANGE);
  steps(g, hAlTimes, hAlLevels, x, y, GREEN);
  star(g, x(hStarPos[0]), y(hStarPos[1]), '#f5101a', '#f5101a');
  star(g, x(hStarNeg[0]), y(hStarNeg[1]), '#0f10e8', '#0f10e8');
})();

// ---------- Panels F, I (power curves) ----------
function logTicks(g, box, x) {
  powerExponents.forEach((e, i) => {
    const dec = Math.pow(10, i);
    xTick(g, box, x(dec), 5);
    powerLabel(g, x(dec), box.labelY, e);
  });
  for (let d = -1; d <= 4; d++) {
    for (let m = 2; m < 10; m++) {
      const px = x(m * Math.pow(10, d));
      if (px > box.l + 4) xTick(g, box, px, 2.5);
    }
  }
}
(function () {
  const g = document.getElementById('plot-f');
  const box = {l: 773.3, r: 1064.3, t: 373.3, b: 629.3, labelY: 648};
  const x = logX(808, 48.27), y = linear(-2, 8, 617.3, 374);
  frame(g, box);
  yAxis(g, box, y, fYTicks, fYLabels, 767);
  logTicks(g, box, x);
  smooth(g, fMgR, fMgP, x, y, '#efb07c', 1.4);
  smooth(g, fAlR, fAlP, x, y, '#a8d4a0', 1.4);
  fMgR.forEach((r, i) => marker(g, 'circle', x(r), y(fMgP[i]), 3.4, '#f3b27a'));
  fAlR.forEach((r, i) => marker(g, 'tri', x(r), y(fAlP[i]), 3.2, '#a4d8a0'));
  star(g, x(fStarPos[0]), y(fStarPos[1]), OPEN_RED[0], OPEN_RED[1]);
  star(g, x(fStarNeg[0]), y(fStarNeg[1]), OPEN_BLUE[0], OPEN_BLUE[1]);
})();
(function () {
  const g = document.getElementById('plot-i');
  const box = {l: 774, r: 1064.3, t: 720.7, b: 976.7, labelY: 996};
  const x = logX(808, 48.27), y = linear(-13, 39, 964.3, 720.7);
  frame(g, box, '#f4f3fb');
  yAxis(g, box, y, iYTicks, iYLabels, 768);
  logTicks(g, box, x);
  smooth(g, fMgR, iMgP, x, y, '#efb07c', 1.4);
  smooth(g, fAlR, iAlP, x, y, '#a8d4a0', 1.4);
  fMgR.forEach((r, i) => marker(g, 'square', x(r), y(iMgP[i]), 3, '#f3b27a'));
  fAlR.forEach((r, i) => marker(g, 'circle', x(r), y(iAlP[i]), 3.3, '#a4d8a0'));
  star(g, x(iStarPos[0]), y(iStarPos[1]), '#f5101a', '#f5101a');
  star(g, x(iStarNeg[0]), y(iStarNeg[1]), '#0f10e8', '#0f10e8');
  const rows = [['Saturated', 825, 749.3, '#1a1a1a'], ['solution', 825, 770, '#1a1a1a']];
  rows.forEach(r => {
    const t = make('text', g, {x: r[1], y: r[2], 'text-anchor': 'middle', style: 'font-size:18px', fill: r[3]});
    t.textContent = r[0];
    
    
  });
  const ting = make('text', g, {x: 1009, y: 757, 'text-anchor': 'middle', class: 'ting'});
  ting.textContent = 'ES-TING';
  
  
  const l1 = make('g', g, {});
  
  
  make('line', l1, {x1: 780, x2: 808, y1: 795, y2: 795, stroke: '#f4b782', 'stroke-width': 2});
  const t1 = make('text', l1, {x: 813.5, y: 801, class: 'mg'});
  t1.textContent = 'MgCl';
  const s1 = make('tspan', t1, {dy: 3, 'font-size': 12});
  s1.textContent = '2';
  const l2 = make('g', g, {});
  
  
  make('line', l2, {x1: 780, x2: 808, y1: 824, y2: 824, stroke: '#a8d4a0', 'stroke-width': 2});
  const t2 = make('text', l2, {x: 813.5, y: 830.7, class: 'al'});
  t2.textContent = 'AlCl';
  const s2 = make('tspan', t2, {dy: 3, 'font-size': 12});
  s2.textContent = '3';
})();

// ---------- Panel J ----------
(function () {
  const g = document.getElementById('plot-j');
  const box = {l: 65.7, r: 355.7, t: 1068.3, b: 1324.3};
  const x = linear(1, 5, 95, 326.7), y = linear(0, 8, box.b, box.t);
  jTimes.forEach((t, i) => {
    const b = make('rect', g, {x: x(t) - 23.3, y: y(jVoltage[i]), width: 46.6, height: y(0) - y(jVoltage[i]), fill: '#f5ad6f'});
    
    
  });
  frame(g, box);
  yAxis(g, box, y, jYTicks, jYLabels, 59);
  jTimes.forEach(t => {
    xTick(g, box, x(t), 5);
    const lab = make('text', g, {x: x(t), y: 1343.3, 'text-anchor': 'middle', class: 't'});
    lab.textContent = String(t);
    
    
  });
})();
</script>
</svg>
</body>
</html>
